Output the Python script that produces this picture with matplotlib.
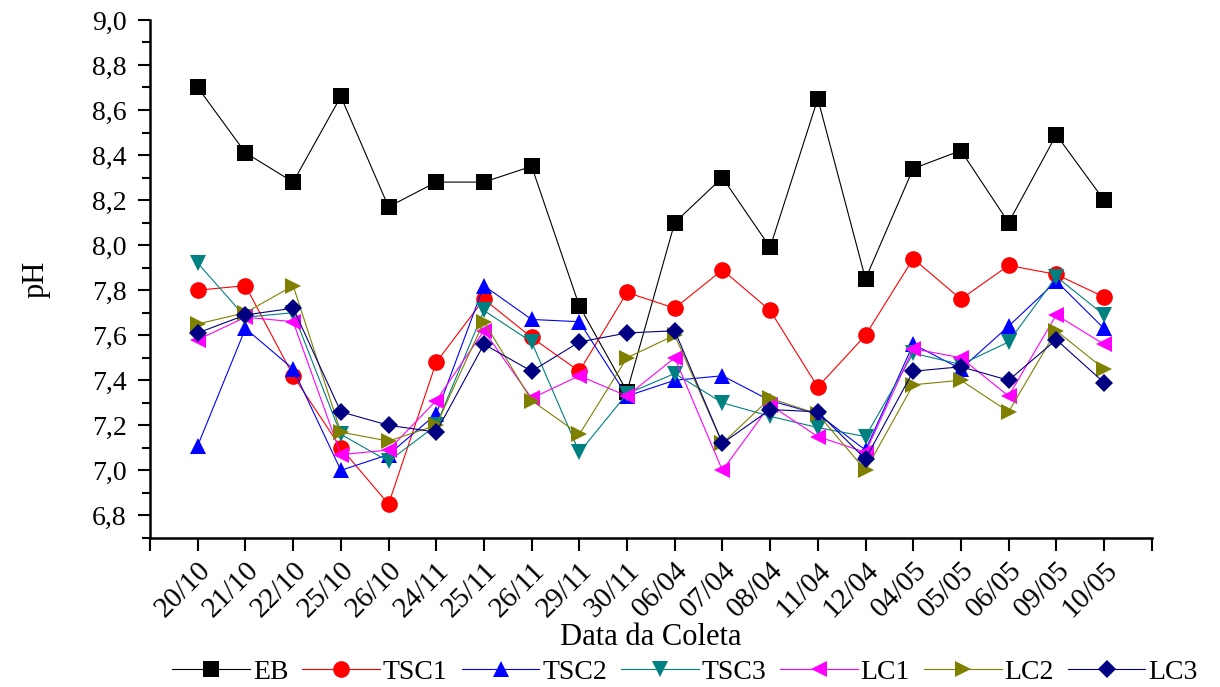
import matplotlib
matplotlib.use("Agg")
import matplotlib.pyplot as plt
from matplotlib.ticker import FuncFormatter, MultipleLocator, FixedLocator

# sampling dates
dates = ["20/10", "21/10", "22/10", "25/10", "26/10", "24/11", "25/11", "26/11",
         "29/11", "30/11", "06/04", "07/04", "08/04", "11/04", "12/04", "04/05",
         "05/05", "06/05", "09/05", "10/05"]

# pH per sampling point
eb = [8.70, 8.41, 8.28, 8.66, 8.17, 8.28, 8.28, 8.35, 7.73, 7.35,
      8.10, 8.30, 7.99, 8.65, 7.85, 8.34, 8.42, 8.10, 8.49, 8.20]
tsc1 = [7.80, 7.82, 7.42, 7.10, 6.85, 7.48, 7.76, 7.59, 7.44, 7.79,
        7.72, 7.89, 7.71, 7.37, 7.60, 7.94, 7.76, 7.91, 7.87, 7.77]
tsc2 = [7.11, 7.63, 7.45, 7.00, 7.07, 7.25, 7.82, 7.67, 7.66, 7.33,
        7.40, 7.42, 7.31, 7.25, 7.09, 7.56, 7.45, 7.64, 7.84, 7.63]
tsc3 = [7.92, 7.68, 7.70, 7.16, 7.04, 7.20, 7.71, 7.57, 7.08, 7.34,
        7.43, 7.30, 7.24, 7.19, 7.15, 7.52, 7.47, 7.57, 7.86, 7.69]
lc1 = [7.58, 7.68, 7.66, 7.07, 7.09, 7.31, 7.62, 7.32, 7.42, 7.33,
       7.50, 7.00, 7.29, 7.15, 7.08, 7.54, 7.50, 7.33, 7.69, 7.56]
lc2 = [7.65, 7.70, 7.82, 7.17, 7.13, 7.20, 7.66, 7.31, 7.16, 7.50,
       7.60, 7.12, 7.32, 7.25, 7.00, 7.38, 7.40, 7.26, 7.62, 7.45]
lc3 = [7.61, 7.69, 7.72, 7.26, 7.20, 7.17, 7.56, 7.44, 7.57, 7.61,
       7.62, 7.12, 7.27, 7.26, 7.05, 7.44, 7.46, 7.40, 7.58, 7.39]

series = [
    ("EB", eb, "black", "s"),
    ("TSC1", tsc1, "red", "o"),
    ("TSC2", tsc2, "blue", "^"),
    ("TSC3", tsc3, "#008080", "v"),
    ("LC1", lc1, "magenta", "<"),
    ("LC2", lc2, "#808000", ">"),
    ("LC3", lc3, "#000080", "D"),
]

plt.rcParams["font.family"] = "Liberation Serif"

fig = plt.figure(figsize=(12.2, 6.87), dpi=100)
ax = fig.add_axes([0.123, 0.217, 0.821, 0.754])

x = list(range(len(dates)))
for name, vals, color, marker in series:
    ms = 9 if marker == "D" else 12
    ax.plot(x, vals, color=color, linewidth=0.8, marker=marker,
            markersize=ms, markeredgewidth=0, label=name)

ax.set_xlim(-1, len(dates))
ax.set_ylim(6.7, 9.0)

# ticks at every point plus both ends, labels only on the dates
ax.xaxis.set_major_locator(FixedLocator(range(-1, len(dates) + 1)))
ax.set_xticklabels([""] + dates + [""], rotation=45, ha="right",
                   rotation_mode="anchor", fontsize=21)
ax.yaxis.set_major_locator(MultipleLocator(0.2))
ax.yaxis.set_minor_locator(MultipleLocator(0.1))
ax.yaxis.set_major_formatter(FuncFormatter(lambda v, p: f"{v:.1f}".replace(".", ",")))
ax.tick_params(axis="y", labelsize=20, pad=8)
ax.tick_params(axis="x", pad=5)
ax.tick_params(which="major", length=9, width=1.5, direction="out")
ax.tick_params(which="minor", length=6, width=1.5, direction="out")

for side in ["top", "right"]:
    ax.spines[side].set_visible(False)
for side in ["left", "bottom"]:
    ax.spines[side].set_linewidth(1.8)

ax.set_xlabel("Data da Coleta", fontsize=22, labelpad=0)
ax.set_ylabel("pH", fontsize=22, labelpad=30)

fig.legend(loc="center", bbox_to_anchor=(0.5615, 0.022), ncol=7, frameon=False,
           fontsize=20, handlelength=2.8, handletextpad=0.1, columnspacing=0.5,
           borderpad=0)

fig.savefig("out.png", dpi=100)
